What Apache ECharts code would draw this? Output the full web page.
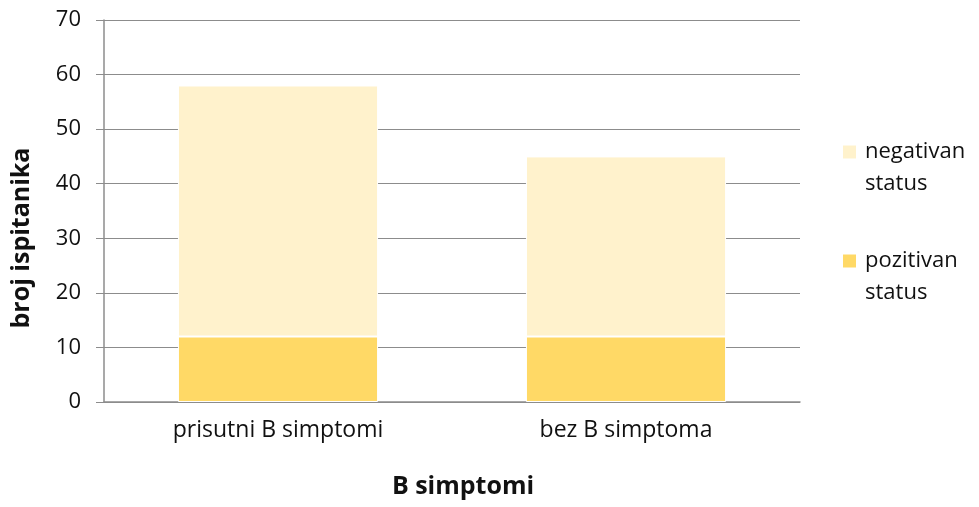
<!DOCTYPE html>
<html>
<head>
<meta charset="utf-8">
<script src="https://cdn.jsdelivr.net/npm/echarts@6/dist/echarts.min.js"></script>
<style>
  html, body { margin: 0; padding: 0; background: #fff; }
  #chart { width: 979px; height: 507px; }
</style>
</head>
<body>
<div id="chart"></div>
<script>
var chart = echarts.init(document.getElementById('chart'));

// data
const categories = ['prisutni B simptomi', 'bez B simptoma'];
const legendOrder = ['negativan status', 'pozitivan status'];
const pozitivan = [12, 12];
const negativan = [46, 33];

const font = 'Open Sans, sans-serif';
const gridColor = '#8c8c8c';

chart.setOption({
  animation: false,
  textStyle: { fontFamily: font },
  grid: { left: 104, right: 179, top: 20, bottom: 105 },
  legend: {
    orient: 'vertical',
    left: 836,
    top: 99,
    itemWidth: 15,
    itemHeight: 15,
    itemGap: 13,
    icon: 'rect',
    data: legendOrder,
    // empty first line so the icon sits next to the first word
    formatter: function (name) { return '\n' + name.replace(' ', '\n'); },
    textStyle: { fontSize: 22, color: '#111', lineHeight: 32, padding: [0, 0, 0, 3], fontFamily: font }
  },
  xAxis: {
    type: 'category',
    data: categories,
    name: 'B simptomi',
    nameLocation: 'middle',
    nameGap: 72,
    nameTextStyle: { fontSize: 25, fontWeight: 'bold', color: '#111', padding: [0, 0, 0, 22] },
    axisLine: { lineStyle: { color: gridColor, width: 1.5 } },
    axisTick: { show: false },
    axisLabel: { fontSize: 23, color: '#111', margin: 17 }
  },
  yAxis: {
    type: 'value',
    min: 0,
    max: 70,
    interval: 10,
    name: 'broj ispitanika',
    nameLocation: 'middle',
    nameGap: 70,
    nameTextStyle: { fontSize: 25, fontWeight: 'bold', color: '#111', padding: [0, 54, 0, 0] },
    axisLine: { show: true, lineStyle: { color: gridColor, width: 1.5 } },
    axisTick: { show: true, length: 8, lineStyle: { color: gridColor } },
    axisLabel: { fontSize: 22, color: '#111', margin: 23 },
    splitLine: { lineStyle: { color: gridColor, width: 1 } }
  },
  series: [{
    name: 'pozitivan status',
    type: 'bar',
    stack: 'total',
    barWidth: '57.5%',
    data: pozitivan,
    itemStyle: { color: '#FFD966', borderColor: '#fff', borderWidth: 1 }
  }, {
    name: 'negativan status',
    type: 'bar',
    stack: 'total',
    data: negativan,
    itemStyle: { color: '#FFF2CC', borderColor: '#fff', borderWidth: 1 }
  }]
});
</script>
</body>
</html>
